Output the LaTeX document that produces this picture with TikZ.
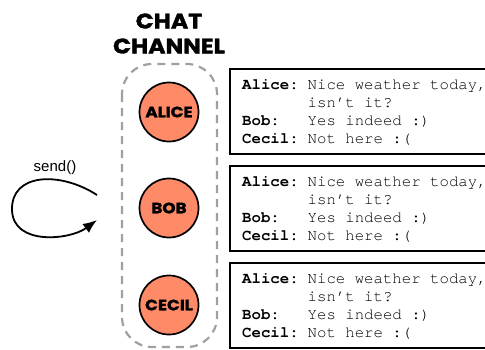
\documentclass[tikz,border=0pt]{standalone}
\usepackage{fontspec}
\setmainfont{Liberation Sans}
\setmonofont{TeX Gyre Cursor}
\newfontfamily\headfont{Poppins}[FakeBold=1.6, FakeStretch=1.12]
\usetikzlibrary{arrows.meta}
\definecolor{peer}{RGB}{255,138,104}
\definecolor{chanline}{RGB}{160,160,160}
\tikzset{
  peernode/.style={circle, draw=black, line width=1.7pt, fill=peer,
    minimum size=59pt, inner sep=0pt,
    font=\headfont\bfseries\fontsize{15}{15}\selectfont},
  logbox/.style={draw=black, line width=1.6pt, fill=white},
  logline/.style={anchor=base west, inner sep=0pt,
    font=\ttfamily\fontsize{15.7}{18}\selectfont},
  headline/.style={inner sep=0pt, font=\headfont\bfseries\fontsize{21}{21}\selectfont},
}
\newcommand{\who}[1]{\makebox[65.5pt][l]{\textbf{#1}}}
\begin{document}
\begin{tikzpicture}[x=1pt,y=-1pt]
  \fill[white] (0,0) rectangle (485,349);
  \clip (0,0) rectangle (485,349);

  % channel title
  \node[headline] (t1) at (169,21) {CHAT};
  \node[headline] (t2) at (169,46) {CHANNEL};

  % channel outline
  \draw[chanline, line width=2.2pt, dash pattern=on 8pt off 6pt, rounded corners=30pt]
    (122,64) rectangle (217,347);

  % peers
  \node[peernode] (alice) at (169,112) {ALICE};
  \node[peernode] (bob)   at (169,208) {BOB};
  \node[peernode] (cecil) at (169,305) {CECIL};

  % per-peer chat logs
  \foreach \i/\top in {1/69, 2/166, 3/263} {
    \draw[logbox] (230,\top) rectangle (495,\top+85);
    \node[logline] (l\i a) at (242,\top+20) {\who{Alice:}Nice weather today,};
    \node[logline] (l\i b) at (242,\top+38.1) {\who{}isn’t it?};
    \node[logline] (l\i c) at (242,\top+56.2) {\who{Bob:}Yes indeed :)};
    \node[logline] (l\i d) at (242,\top+74.3) {\who{Cecil:}Not here :(};
  }

  % send loop
  \node[inner sep=0pt, font=\fontsize{15}{15}\selectfont] (send) at (55,168) {send()};
  \coordinate (s0) at (97,195);
  \coordinate (s1) at (97,220);
  \draw[line width=1.8pt, -{Latex[length=14pt,width=11pt]}]
    (s0) .. controls (60,171) and (11,173) .. (12,210)
         .. controls (13,246) and (70,240) .. (s1);
\end{tikzpicture}
\end{document}
